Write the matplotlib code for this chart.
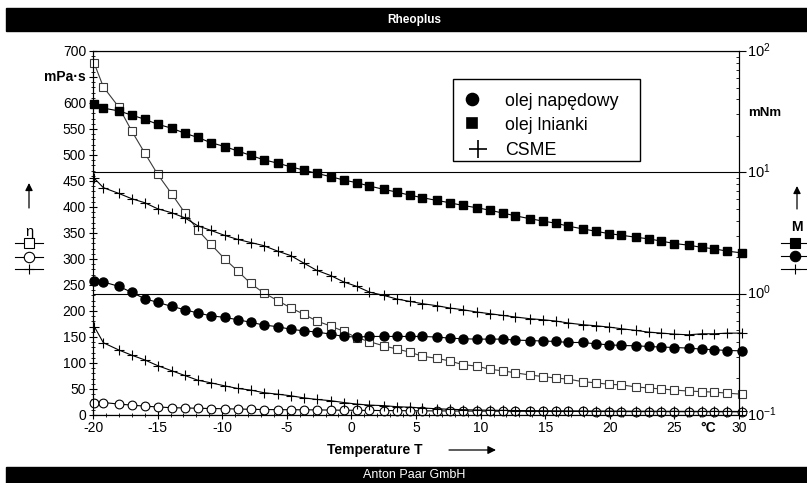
import matplotlib
matplotlib.use("Agg")
import matplotlib.pyplot as plt
from matplotlib.lines import Line2D
from matplotlib.patches import Rectangle
from matplotlib.ticker import MultipleLocator, FixedLocator, NullFormatter

plt.rcParams['font.family'] = ['Liberation Sans', 'DejaVu Sans']
plt.rcParams['axes.unicode_minus'] = False
plt.rcParams['mathtext.fontset'] = 'custom'
plt.rcParams['mathtext.rm'] = 'Liberation Sans'
plt.rcParams['mathtext.it'] = 'Liberation Sans:italic'
plt.rcParams['mathtext.bf'] = 'Liberation Sans:bold'

# temperatura [°C]
temperature = [-19.9, -19.2, -18.0, -17.0, -16.0, -15.0, -13.9, -12.9, -11.9, -10.9,
               -9.8, -8.8, -7.8, -6.8, -5.7, -4.7, -3.7, -2.7, -1.6, -0.6,
               0.4, 1.4, 2.5, 3.5, 4.5, 5.5, 6.6, 7.6, 8.6, 9.7,
               10.7, 11.7, 12.7, 13.8, 14.8, 15.8, 16.8, 17.9, 18.9, 19.9,
               20.9, 22.0, 23.0, 24.0, 25.0, 26.1, 27.1, 28.1, 29.1, 30.2]

# lepkosc eta [mPa.s]
eta_napedowy = [24, 24, 21, 19, 17, 15.5, 14, 13.5, 13, 12.5,
                12, 11.5, 11, 10.5, 10.3, 10.1, 10, 9.8, 9.5, 9.2,
                9, 8.8, 8.6, 8.4, 8.2, 8.0, 7.9, 7.8, 7.6, 7.5,
                7.4, 7.3, 7.2, 7.1, 7.0, 6.9, 6.9, 6.8, 6.7, 6.7,
                6.6, 6.5, 6.5, 6.4, 6.4, 6.3, 6.3, 6.2, 6.2, 6.1]
eta_lnianki = [676, 631, 592, 546, 504, 463, 425, 389, 356, 329,
               300, 277, 253, 235, 220, 206, 194, 181, 171, 161,
               149, 141, 133, 127, 121, 113, 109, 104, 97, 94,
               88, 85, 81, 77, 74, 71, 69, 64, 62, 59,
               58, 54, 52, 50, 48, 46, 45, 44, 42, 40]
eta_csme = [170, 139, 125, 115, 106, 95, 85, 76, 67, 62,
            56, 51, 48, 43, 40, 37, 33, 30, 27.5, 24,
            21, 19, 18, 16, 15, 13.5, 12, 11, 10.2, 9.6,
            9.2, 8.9, 8.6, 8.4, 8.2, 8.0, 7.9, 7.8, 7.7, 7.6,
            7.5, 7.4, 7.3, 7.2, 7.1, 7.0, 7.0, 6.9, 6.9, 6.8]

# moment M [mNm]
m_napedowy = [1.281, 1.249, 1.149, 1.025, 0.909, 0.848, 0.785, 0.738, 0.693, 0.658,
              0.637, 0.610, 0.581, 0.552, 0.534, 0.509, 0.494, 0.483, 0.464, 0.444,
              0.439, 0.444, 0.444, 0.444, 0.444, 0.444, 0.439, 0.430, 0.425, 0.422,
              0.422, 0.422, 0.414, 0.411, 0.407, 0.404, 0.396, 0.396, 0.386, 0.379,
              0.374, 0.372, 0.367, 0.363, 0.360, 0.356, 0.349, 0.345, 0.340, 0.338]
m_lnianki = [36.5, 33.8, 32.1, 29.6, 27.4, 24.9, 23.1, 21.0, 19.4, 17.6,
             16.3, 15.0, 13.8, 12.7, 11.9, 11.1, 10.45, 9.81, 9.21, 8.64,
             8.22, 7.71, 7.24, 6.88, 6.49, 6.18, 5.87, 5.62, 5.34, 5.11,
             4.88, 4.62, 4.38, 4.15, 3.97, 3.81, 3.60, 3.42, 3.27, 3.13,
             3.03, 2.92, 2.83, 2.71, 2.59, 2.51, 2.41, 2.34, 2.24, 2.17]
m_csme = [8.92, 7.48, 6.70, 6.06, 5.62, 5.01, 4.64, 4.22, 3.63, 3.33,
          3.02, 2.80, 2.64, 2.49, 2.24, 2.06, 1.79, 1.56, 1.41, 1.25,
          1.15, 1.03, 0.968, 0.904, 0.864, 0.827, 0.796, 0.762, 0.738, 0.706,
          0.684, 0.662, 0.642, 0.622, 0.610, 0.595, 0.573, 0.555, 0.544, 0.531,
          0.514, 0.498, 0.482, 0.473, 0.464, 0.458, 0.467, 0.467, 0.473, 0.473]

t_ticks = [-20, -15, -10, -5, 0, 5, 10, 15, 20, 25, 30]
eta_ticks = [0, 50, 100, 150, 200, 250, 300, 350, 400, 450, 500, 550, 600, 650, 700]
m_ticks = [0.1, 1, 10, 100]
m_tick_labels = [r'$\mathregular{10^{-1}}$', r'$\mathregular{10^{0}}$',
                 r'$\mathregular{10^{1}}$', r'$\mathregular{10^{2}}$']
legend_labels = ['olej napędowy', 'olej lnianki', 'CSME']

W, H = 807, 483
fig = plt.figure(figsize=(W / 100, H / 100), dpi=100)


def fx(x):
    return x / W


def fy(y):
    # y liczone od gory jak na zrzucie
    return 1 - y / H


ax = fig.add_axes([fx(93), fy(415), (739 - 93) / W, (415 - 51) / H])
ax2 = ax.twinx()

# eta - lewa os
ax.plot(temperature, eta_lnianki, color='#3a3a3a', lw=0.8, marker='s', ms=6,
        mfc='white', mec='#3a3a3a', mew=0.8, clip_on=False, zorder=3)
ax.plot(temperature, eta_napedowy, color='black', lw=0.8, marker='o', ms=6.3,
        mfc='white', mec='black', mew=0.8, clip_on=False, zorder=3)
ax.plot(temperature, eta_csme, color='black', lw=0.8, marker='+', ms=7,
        mew=0.8, clip_on=False, zorder=4)

# M - prawa os (log)
ax2.set_yscale('log')
ax2.plot(temperature, m_lnianki, color='black', lw=0.8, marker='s', ms=6,
         clip_on=False, zorder=3)
ax2.plot(temperature, m_napedowy, color='black', lw=0.8, marker='o', ms=6.5,
         clip_on=False, zorder=3)
ax2.plot(temperature, m_csme, color='black', lw=0.8, marker='+', ms=7,
         mew=0.8, clip_on=False, zorder=3)

ax.set_xlim(-20, 30)
ax.set_ylim(0, 700)
ax2.set_ylim(0.1, 100)

ax.set_xticks(t_ticks)
ax.set_xticklabels([str(t) for t in t_ticks])
ax.xaxis.set_minor_locator(MultipleLocator(1))
ax.set_yticks(eta_ticks)
ax.set_yticklabels(['' if v == 650 else str(v) for v in eta_ticks])
ax.yaxis.set_minor_locator(MultipleLocator(10))
ax.tick_params(which='major', direction='inout', length=6, width=0.8,
               labelsize=10, top=False)
ax.tick_params(which='minor', direction='inout', length=2.5, width=0.6, top=False)
ax.tick_params(axis='y', which='major', pad=2)
ax.tick_params(axis='x', which='major', pad=1.5)

ax2.yaxis.set_major_locator(FixedLocator(m_ticks))
ax2.yaxis.set_minor_locator(FixedLocator([k * d for d in (0.1, 1, 10) for k in range(2, 10)]))
ax2.yaxis.set_major_formatter(NullFormatter())
ax2.yaxis.set_minor_formatter(NullFormatter())
ax2.tick_params(which='major', direction='out', length=5, width=0.8)
ax2.tick_params(which='minor', direction='in', length=2.5, width=0.6)
ax2.grid(True, which='major', axis='y', color='black', lw=0.8)

for a in (ax, ax2):
    for s in a.spines.values():
        s.set_linewidth(0.8)
        s.set_color('black')

for v, lab in zip(m_ticks, m_tick_labels):
    ax2.annotate(lab, xy=(1, v), xycoords=ax2.get_yaxis_transform(),
                 xytext=(8, 10), textcoords='offset pixels',
                 ha='left', va='top', fontsize=10.5)

ax.annotate('mPa·s', xy=(0, 650), xycoords=ax.get_yaxis_transform(),
            xytext=(-7, 0), textcoords='offset pixels', ha='right', va='center',
            fontsize=10, fontweight='bold')
ax.annotate('°C', xy=(27.6, 0), xycoords=ax.get_xaxis_transform(),
            xytext=(0, -6), textcoords='offset pixels', ha='center', va='top',
            fontsize=10, fontweight='bold')
fig.text(fx(748), fy(113), 'mNm', ha='left', va='center', fontsize=9.5, fontweight='bold')

# podpis osi x ze strzalka
fig.text(fx(375), fy(450), 'Temperature T', ha='center', va='center',
         fontsize=10, fontweight='bold')
fig.add_artist(plt.Annotation('', xy=(496, H - 450), xytext=(449, H - 450),
                              xycoords='figure pixels',
                              arrowprops=dict(arrowstyle='-|>', color='black', lw=0.9,
                                              mutation_scale=12, shrinkA=0, shrinkB=0)))

# lewa legenda eta
fig.add_artist(plt.Annotation('', xy=(29, H - 183), xytext=(29, H - 208),
                              xycoords='figure pixels',
                              arrowprops=dict(arrowstyle='-|>', color='black', lw=0.9,
                                              mutation_scale=11, shrinkA=0, shrinkB=0)))
fig.text(fx(29), fy(232), 'η', ha='center', va='center', fontsize=10.5)
for mk, yy, face in [('s', 243, 'white'), ('o', 257, 'white'), ('+', 269, 'black')]:
    fig.add_artist(Line2D([fx(15), fx(29), fx(43)], [fy(yy)] * 3, transform=fig.transFigure,
                          color='black', lw=0.8, marker=mk, markevery=[1], ms=7.5,
                          mfc=face, mec='black', mew=0.8))

# prawa legenda M
fig.add_artist(plt.Annotation('', xy=(797, H - 186), xytext=(797, H - 209),
                              xycoords='figure pixels',
                              arrowprops=dict(arrowstyle='-|>', color='black', lw=0.9,
                                              mutation_scale=11, shrinkA=0, shrinkB=0)))
fig.text(fx(797), fy(227), 'M', ha='center', va='center', fontsize=10, fontweight='bold')
for mk, yy in [('s', 243), ('o', 256), ('+', 269)]:
    fig.add_artist(Line2D([fx(781), fx(795), fx(809)], [fy(yy)] * 3, transform=fig.transFigure,
                          color='black', lw=0.8, marker=mk, markevery=[1], ms=7.5,
                          mfc='black', mec='black', mew=0.8))

# legenda w wykresie
fig.add_artist(Rectangle((fx(453), fy(161)), (640 - 453) / W, (161 - 79) / H,
                         transform=fig.transFigure, facecolor='white',
                         edgecolor='black', lw=1.0, zorder=5))
leg_marks = [('o', 472, 99, 8.6), ('s', 472, 122.5, 7.6), ('+', 478, 149, 12.5)]
for (mk, xx, yy, ms), lab, base in zip(leg_marks, legend_labels, [105.7, 129.5, 155]):
    fig.add_artist(Line2D([fx(xx)], [fy(yy)], transform=fig.transFigure, ls='none',
                          marker=mk, ms=ms, color='black', mew=1.2, zorder=6))
    fig.text(fx(505), fy(base), lab, ha='left', va='baseline', fontsize=12.8, zorder=6)

# paski naglowka i stopki
fig.add_artist(Rectangle((fx(6), fy(31)), (W - 6) / W, 23 / H,
                         transform=fig.transFigure, color='black', zorder=1))
fig.text(fx(414), fy(19.5), 'Rheoplus', color='white', ha='center', va='center',
         fontsize=8.5, fontweight='bold', zorder=2)
fig.add_artist(Rectangle((fx(6), 0), (W - 6) / W, 16 / H,
                         transform=fig.transFigure, color='black', zorder=1))
fig.text(fx(414), fy(475), 'Anton Paar GmbH', color='white', ha='center', va='center',
         fontsize=9, zorder=2)

fig.savefig('out.png', dpi=100)
